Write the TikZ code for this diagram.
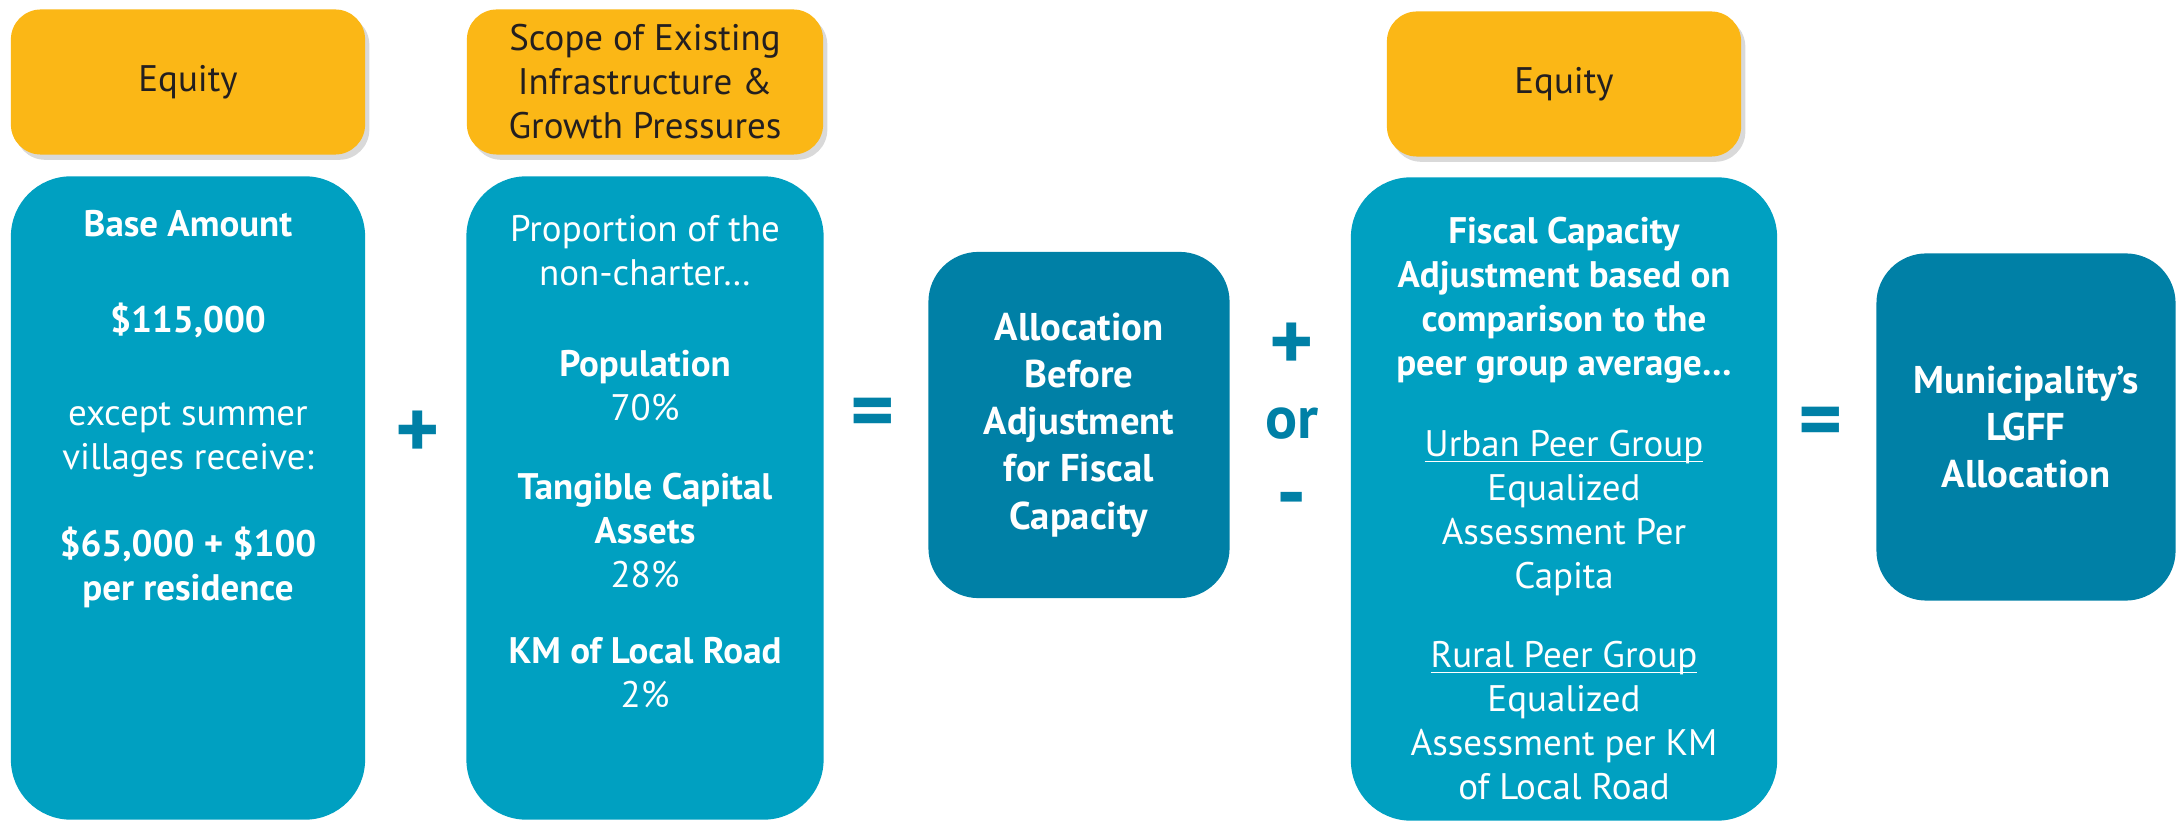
\documentclass[tikz,border=0pt]{standalone}
\usepackage{fontspec}
\setmainfont{PT Sans}
\usepackage{xcolor}
\usetikzlibrary{positioning,shadows}
\definecolor{eqorange}{HTML}{FBB716}
\definecolor{boxteal}{HTML}{00A0C1}
\definecolor{boxdark}{HTML}{0080A6}
\definecolor{hdrtext}{HTML}{231F20}
\newcommand\peerline[1]{\setbox0\hbox{#1}\rlap{\rule[-1.6pt]{\wd0}{0.45pt}}\box0}

\begin{document}
\begin{tikzpicture}[x=0.01cm, y=-0.01cm,
  every node/.style={font=\fontsize{10.5}{12.5}\selectfont},
  hdr/.style={fill=eqorange, rounded corners=3mm, minimum width=3.54cm, minimum height=1.45cm,
              text=hdrtext, align=center,
              drop shadow={shadow xshift=1.2pt, shadow yshift=-1.5pt, opacity=0.3}},
  tbox/.style={fill=boxteal, rounded corners=6mm, minimum height=6.43cm},
  dbox/.style={fill=boxdark, rounded corners=5mm, minimum width=3.01cm, minimum height=3.46cm,
               text=white, align=center, font=\fontsize{11}{13.4}\selectfont\bfseries},
  txt/.style={text=white, align=center, inner sep=0pt},
  op/.style={text=boxdark, inner sep=0pt, font=\fontsize{24}{24}\selectfont\bfseries}
]
\useasboundingbox (0,0) rectangle (2176,822);

\node[hdr] (h1) at (188,82) {Equity};
\node[hdr, minimum width=3.56cm] (h2) at (645,82) {Scope of Existing\\Infrastructure \&\\Growth Pressures};
\node[hdr] (h3) at (1564,84) {Equity};

\node[tbox, minimum width=3.54cm] (b1) at (188,498) {};
\node[tbox, minimum width=3.57cm] (b2) at (645,498) {};
\node[tbox, minimum width=4.26cm] (b4) at (1564,499) {};

\node[dbox] (b3) at (1079,425) {Allocation\\Before\\Adjustment\\for Fiscal\\Capacity};
\node[dbox, minimum width=2.99cm, minimum height=3.47cm] (b5) at (2026,427) {Municipality’s\\LGFF\\Allocation};

\node[txt, below=3.4mm of b1.north] (t1) {\textbf{Base Amount}\\[14.8pt]
  \textbf{\$115,000}\\[13.9pt]
  except summer\\villages receive:\\[12.2pt]
  \textbf{\$65,000 + \$100}\\\textbf{per residence}};
\node[txt, below=3.9mm of b2.north] (t2) {Proportion of the\\non-charter…\\[13.4pt]
  \textbf{Population}\\70\%\\[10pt]
  \textbf{Tangible Capital}\\\textbf{Assets}\\28\%\\[9.1pt]
  \textbf{KM of Local Road}\\2\%};
\node[txt, below=4.0mm of b4.north] (t4) {\textbf{Fiscal Capacity}\\\textbf{Adjustment based on}\\
  \textbf{comparison to the}\\\textbf{peer group average…}\\[10.5pt]
  \peerline{Urban Peer Group}\\Equalized\\Assessment Per\\Capita\\[10pt]
  \peerline{Rural Peer Group}\\Equalized\\Assessment per KM\\of Local Road};

\node[op] (plus1) at (418,435) {+};
\node[op] (eq1) at (873,419) {=};
\node[op] (plus2) at (1292,347) {+};
\node[op, font=\fontsize{17}{17}\selectfont\bfseries] (or) at (1292,424) {or};
\node[op] (minus) at (1292,507) {-};
\node[op] (eq2) at (1821,428) {=};
\end{tikzpicture}
\end{document}
